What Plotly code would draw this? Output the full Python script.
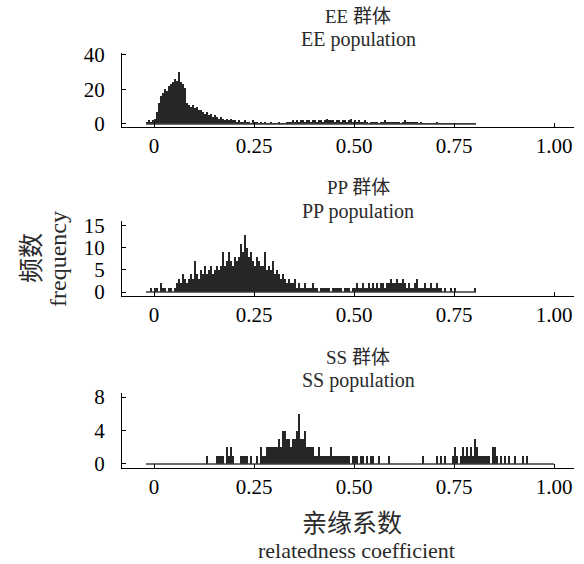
import plotly.graph_objects as go

bin_start = -0.02
bin_width = 0.005

ee_counts = [
    1, 2, 1, 2, 3, 7, 12, 16, 18, 20,
    19, 22, 23, 24, 26, 25, 30, 24, 23, 21,
    12, 11, 10, 11, 9, 10, 8, 8, 7, 6,
    7, 5, 6, 4, 5, 4, 3, 4, 3, 2,
    3, 2, 3, 2, 2, 1, 2, 1, 1, 2,
    1, 1, 0, 2, 1, 1, 0, 1, 0, 1,
    0, 0, 1, 0, 0, 0, 1, 0, 0, 0,
    1, 1, 1, 2, 1, 2, 1, 2, 2, 1,
    2, 2, 1, 2, 2, 1, 2, 2, 1, 2,
    3, 2, 2, 2, 1, 2, 2, 1, 2, 2,
    1, 2, 3, 1, 2, 1, 2, 1, 1, 2,
    1, 0, 1, 1, 1, 1, 0, 1, 1, 2,
    1, 1, 1, 1, 1, 1, 1, 0, 1, 2,
    1, 1, 1, 1, 1, 1, 0, 1, 0, 0,
    0, 0, 0, 0, 0, 1, 0, 0, 0, 0,
    0, 0, 0, 0, 0, 0, 0, 0, 0, 0,
    0, 0, 0, 0, 0,
]

pp_counts = [
    0, 0, 1, 0, 1, 1, 0, 2, 1, 1,
    0, 1, 1, 0, 1, 2, 3, 2, 4, 3,
    2, 3, 4, 3, 7, 4, 3, 5, 4, 6,
    4, 5, 6, 4, 5, 6, 5, 6, 9, 6,
    7, 9, 7, 6, 8, 7, 8, 11, 9, 13,
    10, 8, 9, 7, 6, 8, 7, 6, 6, 9,
    5, 6, 5, 7, 4, 5, 4, 3, 4, 3,
    2, 3, 2, 2, 3, 1, 2, 1, 1, 2,
    1, 1, 1, 2, 1, 1, 0, 1, 1, 1,
    1, 1, 0, 1, 1, 1, 1, 1, 0, 1,
    1, 1, 0, 1, 1, 2, 1, 1, 2, 1,
    1, 2, 1, 2, 1, 2, 1, 2, 2, 1,
    2, 2, 3, 2, 2, 3, 2, 2, 3, 2,
    1, 2, 1, 1, 2, 3, 1, 1, 1, 2,
    1, 1, 2, 1, 1, 2, 1, 1, 0, 1,
    0, 0, 1, 0, 1, 0, 0, 0, 0, 0,
    0, 0, 0, 0, 1,
]

ss_counts = [
    0, 0, 0, 0, 0, 0, 0, 0, 0, 0,
    0, 0, 0, 0, 0, 0, 0, 0, 0, 0,
    0, 0, 0, 0, 0, 0, 0, 0, 0, 0,
    1, 0, 0, 0, 0, 1, 1, 1, 1, 0,
    2, 1, 2, 1, 0, 0, 0, 1, 1, 1,
    1, 0, 1, 0, 0, 1, 0, 2, 1, 1,
    2, 2, 2, 2, 2, 2, 3, 2, 4, 4,
    3, 3, 2, 3, 3, 4, 6, 3, 3, 4,
    2, 2, 2, 2, 1, 1, 2, 1, 1, 1,
    1, 1, 2, 1, 1, 1, 1, 1, 1, 1,
    1, 1, 0, 1, 1, 1, 0, 1, 1, 0,
    1, 0, 1, 1, 0, 0, 1, 0, 0, 0,
    0, 1, 0, 0, 0, 0, 0, 0, 0, 0,
    0, 0, 0, 0, 0, 0, 0, 0, 1, 0,
    0, 0, 0, 0, 0, 1, 0, 1, 0, 1,
    0, 0, 0, 1, 2, 1, 0, 1, 2, 1,
    2, 1, 2, 1, 3, 2, 1, 1, 1, 1,
    1, 1, 0, 2, 2, 1, 0, 1, 0, 1,
    0, 1, 0, 0, 1, 0, 0, 0, 1, 0,
    1, 0, 0, 0, 0, 0, 0, 0, 0, 0,
    0, 0, 0, 0,
]

panels = [
    {"name": "EE", "counts": ee_counts, "yticks": [0, 20, 40], "yrange": [-1.8, 41]},
    {"name": "PP", "counts": pp_counts, "yticks": [0, 5, 10, 15], "yrange": [-0.9, 16.1]},
    {"name": "SS", "counts": ss_counts, "yticks": [0, 4, 8], "yrange": [-0.48, 8.48]},
]
x_ticks = [0, 0.25, 0.5, 0.75, 1.0]
x_ticklabels = ["0", "0.25", "0.50", "0.75", "1.00"]
title_cn = "群体"
title_en = "population"
ylabel_cn = "频数"
ylabel_en = "frequency"
xlabel_cn = "亲缘系数"
xlabel_en = "relatedness coefficient"

W, H = 584, 564
SERIF = "Liberation Serif"
CJK = "Noto Sans CJK SC"
BAR_COLOR = "#262626"
TEXT = "#2a2a2a"

# pixel layout (domains)
x_dom = [122 / W, 574 / W]
y_doms_px = [(127, 53), (296, 221), (468, 393)]
title_px = [(15, 40), (185, 211), (355, 381)]

fig = go.Figure()
for k, p in enumerate(panels):
    n = len(p["counts"])
    centers = [bin_start + bin_width * (i + 0.5) for i in range(n)]
    sfx = "" if k == 0 else str(k + 1)
    fig.add_trace(go.Scatter(
        x=[bin_start, bin_start + bin_width * n], y=[0, 0], mode="lines",
        line=dict(color="#3a3a3a", width=1.6), showlegend=False, hoverinfo="skip",
        xaxis="x" + sfx, yaxis="y" + sfx,
    ))
    fig.add_trace(go.Bar(
        x=centers, y=p["counts"], width=bin_width,
        marker=dict(color=BAR_COLOR, line=dict(width=0)),
        showlegend=False, xaxis="x" + sfx, yaxis="y" + sfx,
    ))
    yb, yt = y_doms_px[k]
    axis_common = dict(
        showline=True, linecolor="black", linewidth=1, ticks="inside", ticklen=4,
        tickcolor="black", tickwidth=1, showgrid=False, zeroline=False,
        automargin=False,
        tickfont=dict(family=SERIF, size=21, color="black"),
    )
    fig.update_layout(**{
        "xaxis" + sfx: dict(
            domain=x_dom, range=[-0.08, 1.05], anchor="y" + sfx,
            tickvals=x_ticks, ticktext=x_ticklabels, **axis_common,
        ),
        "yaxis" + sfx: dict(
            domain=[1 - yb / H, 1 - yt / H], range=p["yrange"], anchor="x" + sfx,
            tickvals=p["yticks"], ticklabelstandoff=12, **axis_common,
        ),
    })
    t1, t2 = title_px[k]
    fig.add_annotation(text=f"{p['name']} <span style='font-family:{CJK}'>{title_cn}</span>",
                       x=358 / W, y=1 - t1 / H,
                       xref="paper", yref="paper", showarrow=False,
                       font=dict(family=SERIF, size=19, color=TEXT),
                       xanchor="center", yanchor="middle")
    fig.add_annotation(text=f"{p['name']} {title_en}", x=358 / W, y=1 - t2 / H,
                       xref="paper", yref="paper", showarrow=False,
                       font=dict(family=SERIF, size=20, color=TEXT),
                       xanchor="center", yanchor="middle")

fig.add_annotation(text=ylabel_cn, x=29 / W, y=1 - 258 / H, xref="paper", yref="paper",
                   showarrow=False, textangle=-90,
                   font=dict(family=CJK, size=25, color=TEXT),
                   xanchor="center", yanchor="middle")
fig.add_annotation(text=ylabel_en, x=58 / W, y=1 - 259 / H, xref="paper", yref="paper",
                   showarrow=False, textangle=-90,
                   font=dict(family=SERIF, size=24, color=TEXT),
                   xanchor="center", yanchor="middle")
fig.add_annotation(text=xlabel_cn, x=352 / W, y=1 - 521 / H, xref="paper", yref="paper",
                   showarrow=False,
                   font=dict(family=CJK, size=25, color=TEXT),
                   xanchor="center", yanchor="middle")
fig.add_annotation(text=xlabel_en, x=356 / W, y=1 - 550 / H, xref="paper", yref="paper",
                   showarrow=False,
                   font=dict(family=SERIF, size=22, color=TEXT),
                   xanchor="center", yanchor="middle")

fig.update_layout(
    width=W, height=H, margin=dict(l=0, r=0, t=0, b=0, autoexpand=False),
    paper_bgcolor="white", plot_bgcolor="white", bargap=0,
)
fig.write_html("out.html", config={"displayModeBar": False},
               post_script="document.body.style.margin='0px';")
